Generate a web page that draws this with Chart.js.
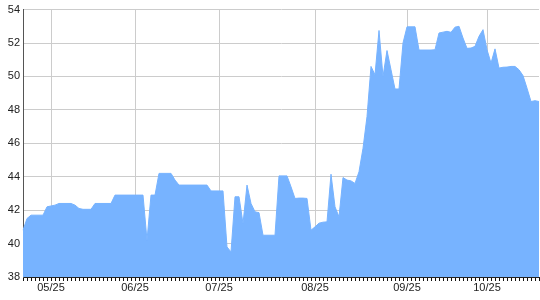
<!DOCTYPE html>
<html>
<head>
<meta charset="utf-8">
<script src="https://cdn.jsdelivr.net/npm/chart.js@4"></script>
<style>
  html, body { margin: 0; padding: 0; background: #fff; }
  #wrap { width: 540px; height: 300px; position: relative; }
</style>
</head>
<body>
<div id="wrap"><canvas id="chart" width="540" height="300"></canvas></div>
<script>
// Daily values, one per trading session
const values = [
  40.8, 41.5, 41.7, 41.7, 41.7, 41.7, 42.2, 42.25, 42.3, 42.4,
  42.4, 42.4, 42.4, 42.3, 42.1, 42.05, 42.05, 42.05, 42.4, 42.4,
  42.4, 42.4, 42.4, 42.9, 42.9, 42.9, 42.9, 42.9, 42.9, 42.9,
  42.9, 40.2, 42.9, 42.9, 44.2, 44.2, 44.2, 44.2, 43.8, 43.5,
  43.5, 43.5, 43.5, 43.5, 43.5, 43.5, 43.5, 43.15, 43.15, 43.15,
  43.15, 39.8, 39.5, 42.8, 42.8, 41.2, 43.5, 42.4, 41.9, 41.85,
  40.5, 40.5, 40.5, 40.5, 44.05, 44.05, 44.05, 43.4, 42.7, 42.72,
  42.72, 42.7, 40.8, 41.0, 41.22, 41.28, 41.3, 44.15, 42.2, 41.6,
  43.95, 43.8, 43.75, 43.6, 44.3, 45.7, 47.6, 50.6, 50.1, 52.75,
  50.0, 51.55, 50.4, 49.25, 49.25, 52.0, 52.97, 52.97, 52.97, 51.58,
  51.58, 51.58, 51.58, 51.6, 52.6, 52.65, 52.7, 52.64, 52.95, 53.0,
  52.3, 51.68, 51.7, 51.8, 52.4, 52.8, 51.6, 50.8, 51.65, 50.5,
  50.55, 50.56, 50.6, 50.6, 50.4, 50.05, 49.3, 48.5, 48.55, 48.5
];

// Month tick labels and the session index where each month starts
const monthLabels = ['05/25', '06/25', '07/25', '08/25', '09/25', '10/25'];
const monthStarts = [7, 28, 49, 73, 96, 116];

const yTicks = [38, 40, 42, 44, 46, 48, 50, 52, 54];

const labels = values.map((v, i) => {
  const k = monthStarts.indexOf(i);
  return k >= 0 ? monthLabels[k] : '';
});

const FILL = '#77b3ff';
const GRID = '#cccccc';

new Chart(document.getElementById('chart').getContext('2d'), {
  type: 'line',
  data: {
    labels: labels,
    datasets: [{
      data: values,
      fill: 'start',
      backgroundColor: FILL,
      borderColor: FILL,
      borderWidth: 1,
      pointRadius: 0,
      tension: 0
    }]
  },
  options: {
    responsive: false,
    animation: false,
    layout: { padding: { top: 8, right: 1, left: 0, bottom: 0 } },
    plugins: { legend: { display: false }, tooltip: { enabled: false } },
    scales: {
      x: {
        type: 'category',
        offset: false,
        afterFit: s => { s.height = 23; },
        border: { color: '#222', width: 1 },
        grid: {
          color: c => monthStarts.includes(c.index) ? GRID : 'rgba(0,0,0,0)',
          tickColor: '#111',
          tickLength: 4,
          drawOnChartArea: true
        },
        ticks: {
          autoSkip: false,
          maxRotation: 0,
          minRotation: 0,
          padding: 0,
          color: '#222',
          font: { family: 'Liberation Sans, Arial, sans-serif', size: 11 },
          callback: function (v, i) { return labels[i]; }
        }
      },
      y: {
        min: 38,
        max: 54,
        afterFit: s => { s.width = 23; },
        afterBuildTicks: s => { s.ticks = yTicks.map(v => ({ value: v })); },
        border: { color: '#555', width: 1 },
        grid: { color: GRID, drawTicks: false },
        ticks: {
          padding: 3,
          color: '#222',
          font: { family: 'Liberation Sans, Arial, sans-serif', size: 11 }
        }
      }
    }
  }
});
</script>
</body>
</html>
